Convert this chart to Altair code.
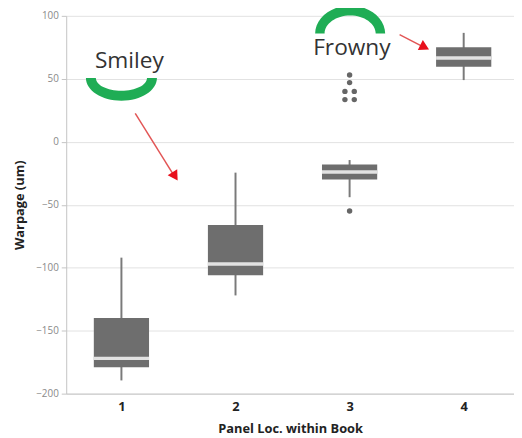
import altair as alt
import pandas as pd

# ---- data ----
panels = [1, 2, 3, 4]
whisker_low = [-189.5, -122, -44, 49]
q1 = [-179, -106, -30, 59.5]
median = [-172, -97, -24, 66.5]
q3 = [-140, -66, -18, 75]
whisker_high = [-92, -24.5, -14.5, 86.5]

outlier_panel = [3, 3, 3, 3, 3, 3, 3]
outlier_value = [-55, 53, 47, 40, 40, 33.5, 33.5]

# annotations (data coordinates)
label_text = ["Smiley", "Frowny"]
label_x = [1.07, 3.02]
label_y = [64.0, 74.2]

arc_x = [1.0, 3.005]
arc_y = [50.7, 85.9]
arc_shape = [
    "M -1 0 A 1 0.64 0 0 0 1 0 L 0.72 0 A 0.72 0.36 0 0 1 -0.72 0 Z",
    "M -1 0 A 1 0.8 0 0 1 1 0 L 0.73 0 A 0.73 0.52 0 0 0 -0.73 0 Z",
]
arc_size = [5184, 5041]

arrow_x = [1.121, 3.438]
arrow_y = [22.5, 85.1]
arrow_x2 = [1.450, 3.637]
arrow_y2 = [-25.3, 75.7]
head_x = [1.470, 3.658]
head_y = [-27.5, 75.1]
head_angle = [147.7, 116.6]

box = pd.DataFrame({
    "panel": panels, "wlo": whisker_low, "q1": q1,
    "median": median, "q3": q3, "whi": whisker_high,
})
outl = pd.DataFrame({"panel": outlier_panel, "value": outlier_value})
labels = pd.DataFrame({"text": label_text, "x": label_x, "y": label_y})
arcs = pd.DataFrame({"x": arc_x, "y": arc_y, "shape": arc_shape, "size": arc_size})
arrows = pd.DataFrame({"x": arrow_x, "y": arrow_y, "x2": arrow_x2, "y2": arrow_y2})
heads = pd.DataFrame({"x": head_x, "y": head_y, "angle": head_angle})

FONT = "Open Sans"
HALF = 0.242

xscale = alt.Scale(domain=[0.5159, 4.441], nice=False, zero=False)
yscale = alt.Scale(domain=[-200, 100], nice=False, zero=False)

x_axis = alt.Axis(
    values=[1, 2, 3, 4], format="d", grid=False, ticks=False,
    domainColor="#c4c4c4", labelFont=FONT, labelFontSize=13, labelFontWeight="bold",
    labelColor="#222222", labelPadding=7, title="Panel Loc. within Book",
    titleFont=FONT, titleFontSize=13, titleFontWeight="bold", titleColor="#222222",
    titlePadding=9,
)
y_axis = alt.Axis(
    values=list(range(-200, 101, 25)),
    labelExpr="datum.value % 50 == 0 ? datum.label : ''",
    grid=True, gridColor="#e2e2e2", tickColor="#c4c4c4", tickSize=5,
    domainColor="#c4c4c4", labelFont=FONT, labelFontSize=10, labelColor="#8a8a8a",
    labelPadding=3, title="Warpage (um)", titleFont=FONT, titleFontSize=13,
    titleFontWeight="bold", titleColor="#222222", titlePadding=9,
)

base = alt.Chart(box)

whiskers = base.mark_rule(color="#7a7a7a", strokeWidth=2).encode(
    x=alt.X("panel:Q", scale=xscale, axis=x_axis),
    y=alt.Y("wlo:Q", scale=yscale, axis=y_axis),
    y2="whi:Q",
)

boxes = base.transform_calculate(
    lo=f"datum.panel - {HALF}", hi=f"datum.panel + {HALF}"
).mark_rect(color="#6e6e6e").encode(
    x="lo:Q", x2="hi:Q", y="q1:Q", y2="q3:Q",
)

medians = base.transform_calculate(
    lo=f"datum.panel - {HALF}", hi=f"datum.panel + {HALF}"
).mark_rule(color="#e2e2e2", strokeWidth=3.5).encode(
    x="lo:Q", x2="hi:Q", y="median:Q",
)

outliers = alt.Chart(outl).transform_window(
    rank="row_number()", groupby=["panel", "value"]
).transform_joinaggregate(
    n="count()", groupby=["panel", "value"]
).transform_calculate(
    xpos="datum.panel + (datum.rank - (datum.n + 1) / 2) * 0.082"
).mark_circle(color="#666666", size=30, opacity=1).encode(
    x="xpos:Q", y="value:Q",
)

arc_layer = alt.Chart(arcs).mark_point(filled=True, color="#1fad55", opacity=1).encode(
    x="x:Q", y="y:Q",
    shape=alt.Shape("shape:N", scale=None),
    size=alt.Size("size:Q", scale=None),
)

text_layer = alt.Chart(labels).mark_text(
    font=FONT, fontSize=23, color="#333333", align="center", baseline="middle"
).encode(x="x:Q", y="y:Q", text="text:N")

arrow_layer = alt.Chart(arrows).mark_rule(color="#e25555", strokeWidth=1.5).encode(
    x="x:Q", y="y:Q", x2="x2:Q", y2="y2:Q",
)

head_layer = alt.Chart(heads).mark_point(
    shape="triangle-up", filled=True, color="#e8101c", size=130, opacity=1
).encode(
    x="x:Q", y="y:Q", angle=alt.Angle("angle:Q", scale=None),
)

chart = alt.layer(
    whiskers, boxes, medians, outliers, arc_layer, text_layer, arrow_layer, head_layer
).properties(
    width=454, height=383,
    padding={"left": 59, "top": 5, "right": 0, "bottom": 42},
    autosize=alt.AutoSizeParams(type="none"),
    background="white",
).configure_view(stroke=None)

chart.save("out.html", embed_options={"renderer": "svg", "actions": False})
